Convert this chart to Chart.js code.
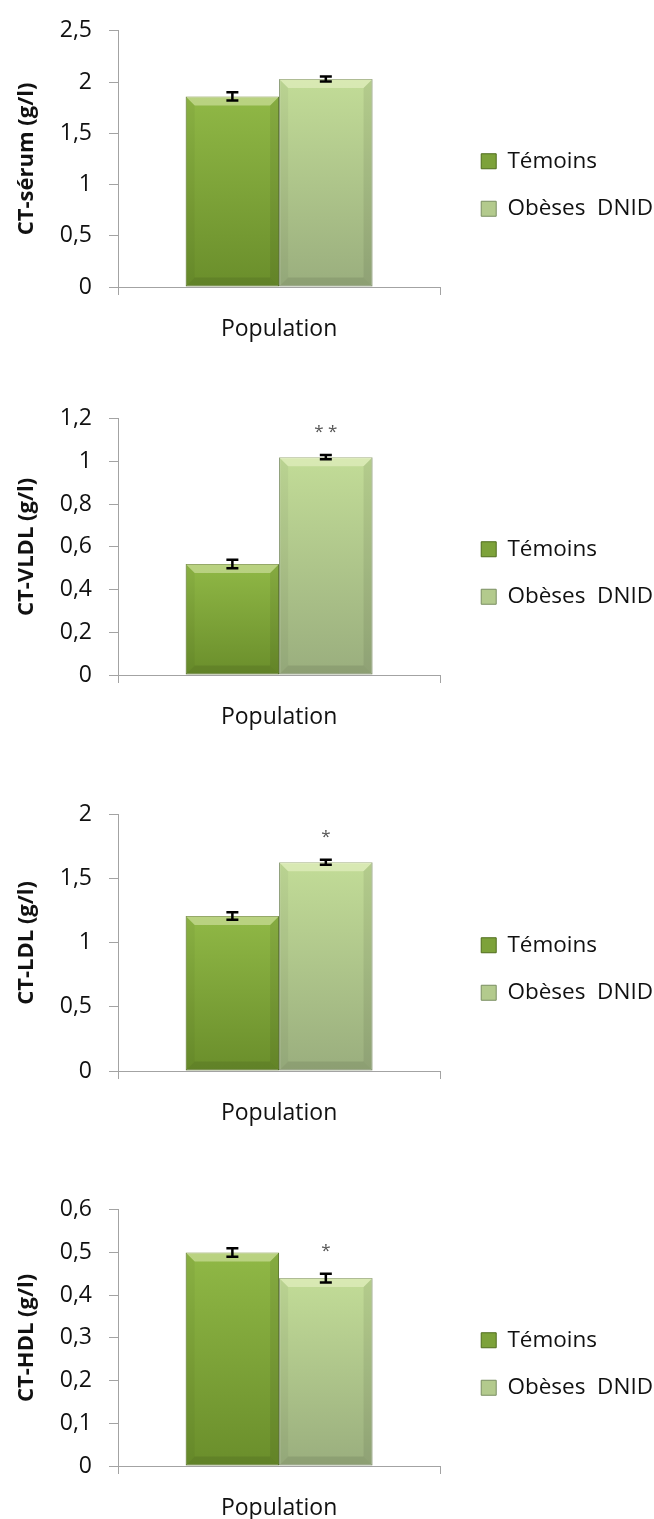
<!DOCTYPE html>
<html>
<head>
<meta charset="utf-8">
<script src="https://cdn.jsdelivr.net/npm/chart.js@4/dist/chart.umd.min.js"></script>
<style>
  html, body { margin: 0; padding: 0; background: #fff; width: 654px; height: 1519px; overflow: hidden; }
  canvas { position: absolute; left: 0; }
</style>
</head>
<body>
<canvas id="c0" width="654" height="370" style="top:0px"></canvas>
<canvas id="c1" width="654" height="370" style="top:388px"></canvas>
<canvas id="c2" width="654" height="370" style="top:784px"></canvas>
<canvas id="c3" width="654" height="370" style="top:1179px"></canvas>
<script>
// ---- data ----
const categories = ['Population'];
const seriesNames = ['Témoins', 'Obèses  DNID'];
const yTitles = ['CT-sérum (g/l)', 'CT-VLDL (g/l)', 'CT-LDL (g/l)', 'CT-HDL (g/l)'];
const temoins = [1.86, 0.52, 1.21, 0.50];
const obeses = [2.03, 1.02, 1.63, 0.44];
const temoinsErr = [0.04, 0.02, 0.03, 0.01];
const obesesErr = [0.025, 0.01, 0.02, 0.01];
const temoinsSignif = ['', '', '', ''];
const obesesSignif = ['', '**', '*', '*'];
const yMax = [2.5, 1.2, 2, 0.6];
const yStep = [0.5, 0.2, 0.5, 0.1];
const formatTick = v => String(Math.round(v * 10) / 10).replace('.', ',');

// ---- styles ----
const FONT = "'Open Sans', 'DejaVu Sans', sans-serif";
const axisColor = '#a3a3a3';
const barTop = ['#90b846', '#c2dc97'];
const barBottom = ['#6a8e2b', '#9aae7e'];
const barBorder = ['#56741f', '#7f9366'];
const legendFill = ['#7da23a', '#b3ca8d'];
const legendStroke = ['#4f6c1c', '#7a8e62'];

Chart.defaults.font.family = FONT;
Chart.defaults.color = '#111';

function gradientFor(idx) {
  return function (ctx) {
    const chart = ctx.chart;
    const area = chart.chartArea;
    if (!area || !chart.scales.y) return barTop[idx];
    const yTop = chart.scales.y.getPixelForValue(ctx.raw);
    const g = chart.ctx.createLinearGradient(0, yTop, 0, area.bottom);
    g.addColorStop(0, barTop[idx]);
    g.addColorStop(1, barBottom[idx]);
    return g;
  };
}

const bevelPlugin = {
  id: 'bevel',
  afterDatasetDraw(chart, args) {
    const ctx = chart.ctx;
    const meta = args.meta;
    meta.data.forEach(bar => {
      const p = bar.getProps(['x', 'y', 'base', 'width'], true);
      const l = p.x - p.width / 2, r = p.x + p.width / 2, t = p.y, b = p.base;
      const s = Math.min(9, (b - t) / 2);
      const poly = (pts, fill) => {
        ctx.beginPath();
        ctx.moveTo(pts[0][0], pts[0][1]);
        for (let i = 1; i < pts.length; i++) ctx.lineTo(pts[i][0], pts[i][1]);
        ctx.closePath();
        ctx.fillStyle = fill;
        ctx.fill();
      };
      ctx.save();
      poly([[l, t], [r, t], [r - s, t + s], [l + s, t + s]], 'rgba(255,255,225,0.38)');
      poly([[l, t], [l + s, t + s], [l + s, b - s], [l, b]], 'rgba(0,0,0,0.04)');
      poly([[r, t], [r, b], [r - s, b - s], [r - s, t + s]], 'rgba(0,0,0,0.07)');
      poly([[l, b], [r, b], [r - s, b - s], [l + s, b - s]], 'rgba(0,0,0,0.09)');
      ctx.restore();
    });
  }
};

const errorBarPlugin = {
  id: 'errorBars',
  afterDatasetsDraw(chart) {
    const ctx = chart.ctx;
    const y = chart.scales.y;
    chart.data.datasets.forEach((ds, i) => {
      const meta = chart.getDatasetMeta(i);
      meta.data.forEach((bar, j) => {
        const v = ds.data[j];
        const e = ds.errors[j];
        const yt = y.getPixelForValue(v + e);
        const yb = y.getPixelForValue(v - e);
        const x = bar.x;
        ctx.save();
        ctx.strokeStyle = '#000';
        ctx.lineWidth = 2.5;
        ctx.beginPath();
        ctx.moveTo(x, yt); ctx.lineTo(x, yb);
        ctx.moveTo(x - 6, yt); ctx.lineTo(x + 6, yt);
        ctx.moveTo(x - 6, yb); ctx.lineTo(x + 6, yb);
        ctx.stroke();
        const s = ds.signif[j];
        if (s) {
          ctx.fillStyle = '#555';
          ctx.font = '17px ' + FONT;
          ctx.textAlign = 'center';
          ctx.textBaseline = 'alphabetic';
          ctx.fillText(s.split('').join(' '), x, yt - 28 + 10);
        }
        ctx.restore();
      });
    });
  }
};

const legendShiftPlugin = {
  id: 'legendShift',
  afterLayout(chart, args, opts) {
    if (chart.legend) {
      chart.legend.left += opts.dx;
      chart.legend.right += opts.dx;
    }
  }
};

function makeChart(k) {
  return new Chart(document.getElementById('c' + k), {
    type: 'bar',
    data: {
      labels: categories,
      datasets: [
        {
          label: seriesNames[0],
          data: [temoins[k]],
          errors: [temoinsErr[k]],
          signif: [temoinsSignif[k]],
          backgroundColor: gradientFor(0),
          borderColor: barBorder[0],
          borderWidth: 1,
          borderSkipped: false
        },
        {
          label: seriesNames[1],
          data: [obeses[k]],
          errors: [obesesErr[k]],
          signif: [obesesSignif[k]],
          backgroundColor: gradientFor(1),
          borderColor: barBorder[1],
          borderWidth: 1,
          borderSkipped: false
        }
      ]
    },
    options: {
      responsive: false,
      animation: false,
      devicePixelRatio: 1,
      layout: { padding: { top: 27, bottom: 27, left: 0, right: 7 } },
      datasets: { bar: { categoryPercentage: 0.58, barPercentage: 1.0 } },
      plugins: {
        legend: {
          position: 'right',
          align: 'center',
          maxWidth: 260,
          labels: {
            boxWidth: 15,
            boxHeight: 15,
            padding: 25,
            font: { size: 22.5, family: FONT },
            color: '#111',
            generateLabels(chart) {
              const items = Chart.defaults.plugins.legend.labels.generateLabels(chart);
              items.forEach((it, i) => {
                it.fillStyle = legendFill[i];
                it.strokeStyle = legendStroke[i];
                it.lineWidth = 1;
              });
              return items;
            }
          }
        },
        legendShift: { dx: 16 },
        tooltip: { enabled: false }
      },
      scales: {
        x: {
          type: 'category',
          offset: true,
          grid: { offset: true, drawOnChartArea: false, drawTicks: true, tickLength: 8, color: axisColor },
          border: { color: axisColor, width: 1 },
          ticks: { padding: 21, font: { size: 23 }, color: '#111' },
          afterFit(scale) { scale.height = 56; }
        },
        y: {
          min: 0,
          max: yMax[k],
          grid: { drawOnChartArea: false, drawTicks: true, tickLength: 9, color: axisColor },
          border: { color: axisColor, width: 1 },
          ticks: { stepSize: yStep[k], padding: 17, font: { size: 23 }, color: '#111', callback: v => formatTick(v) },
          title: {
            display: true,
            text: yTitles[k],
            font: { size: 22, weight: 'bold' },
            color: '#111',
            padding: { top: 14, bottom: 0 }
          },
          afterFit(scale) { scale.width = 118; }
        }
      }
    },
    plugins: [bevelPlugin, errorBarPlugin, legendShiftPlugin]
  });
}

for (let k = 0; k < 4; k++) makeChart(k);
</script>
</body>
</html>
